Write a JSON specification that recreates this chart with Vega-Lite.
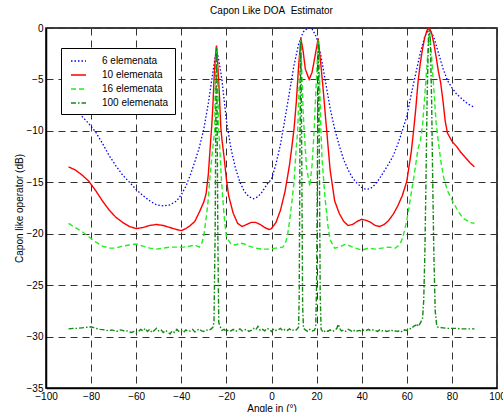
{
  "$schema": "https://vega.github.io/schema/vega-lite/v6.json",
  "width": 451,
  "height": 360,
  "autosize": {"type": "none"},
  "padding": {"left": 46, "top": 28, "right": 6, "bottom": 24},
  "background": "white",
  "title": {"text": "Capon Like DOA\u00a0 Estimator", "fontSize": 10, "fontWeight": "normal", "font": "Liberation Sans", "color": "black", "offset": 7, "anchor": "middle"},
  "datasets": {
    "b": [[-90,-7.0],[-87,-7.8],[-84,-8.6],[-81,-9.3],[-78,-10.1],[-75,-11.2],[-72,-12.4],[-69,-13.4],[-66,-14.3],[-63,-15.0],[-60,-15.7],[-57,-16.3],[-54,-16.8],[-51,-17.2],[-48,-17.3],[-45,-17.2],[-42,-16.8],[-40,-16.2],[-38,-15.4],[-36,-14.3],[-34,-13.0],[-32,-11.6],[-30,-9.8],[-28,-7.3],[-26,-4.3],[-24.4,-2.0],[-23,-3.6],[-22,-5.0],[-20,-9.0],[-18,-11.7],[-16,-13.6],[-14,-15.0],[-12,-15.9],[-10,-16.4],[-8,-16.6],[-6,-16.4],[-4,-15.9],[-2,-15.2],[0,-14.7],[2,-13.2],[4,-11.3],[6,-8.8],[8,-6.2],[10,-3.6],[12,-1.6],[14,-0.4],[16,0.0],[17,0.0],[18,-0.1],[20,-0.9],[22,-2.8],[24,-5.3],[26,-7.8],[28,-9.8],[30,-11.4],[32,-12.8],[34,-13.8],[36,-14.6],[38,-15.1],[40,-15.5],[42,-15.7],[44,-15.6],[46,-15.2],[48,-14.6],[50,-13.9],[52,-13.2],[54,-12.4],[56,-11.3],[58,-10.0],[60,-8.6],[62,-6.4],[64,-4.4],[66,-2.4],[68,-0.8],[70,-0.1],[72,-0.9],[74,-2.4],[76,-3.9],[78,-5.1],[80,-5.8],[82,-6.4],[84,-6.8],[86,-7.2],[88,-7.5],[90,-7.7]],
    "r": [[-90,-13.5],[-87,-13.8],[-84,-14.3],[-81,-14.9],[-78,-15.8],[-75,-16.8],[-72,-17.7],[-69,-18.4],[-66,-18.9],[-63,-19.3],[-60,-19.5],[-57,-19.4],[-54,-19.2],[-51,-19.1],[-48,-19.2],[-45,-19.4],[-42,-19.6],[-40,-19.7],[-38,-19.5],[-36,-19.2],[-34,-18.8],[-32,-17.9],[-30,-16.9],[-29,-16.1],[-28,-14.2],[-27,-11.0],[-26.5,-9.5],[-26,-7.6],[-25.5,-5.0],[-25,-3.2],[-24.4,-1.7],[-24,-3.0],[-23.5,-4.8],[-23,-7.0],[-22.5,-9.6],[-22,-10.8],[-21,-12.6],[-20,-14.7],[-19,-16.3],[-17,-18.0],[-15,-19.0],[-13,-19.3],[-11,-19.1],[-9,-18.9],[-7,-18.9],[-5,-19.1],[-3,-19.4],[-1,-19.6],[0,-19.5],[2,-18.9],[4,-17.7],[6,-15.9],[8,-13.3],[9,-11.6],[10,-9.8],[11,-7.2],[12,-3.8],[13,-1.0],[14,-2.2],[15,-4.0],[16.7,-5.0],[18,-4.3],[19.5,-2.5],[20.7,-1.0],[22,-3.8],[23,-6.2],[24,-8.8],[24.5,-10.0],[25,-11.3],[26,-13.8],[28,-16.8],[30,-18.0],[32,-18.8],[34,-19.2],[36,-19.1],[38,-18.8],[40,-18.6],[42,-18.7],[44,-18.9],[46,-19.2],[48,-19.3],[50,-19.1],[52,-18.7],[54,-18.1],[56,-17.3],[58,-16.3],[60,-14.9],[62,-12.0],[63,-10.0],[64,-7.8],[65,-5.2],[66,-3.4],[67,-2.0],[68,-0.9],[69,-0.2],[70,0.0],[71,-0.5],[72,-1.5],[73,-2.8],[74,-4.2],[75,-5.3],[76,-7.0],[77,-9.0],[78,-10.2],[80,-11.0],[82,-11.5],[84,-12.1],[86,-12.6],[88,-13.1],[90,-13.5]],
    "g": [[-90,-19.0],[-87,-19.4],[-84,-19.8],[-81,-20.3],[-78,-20.8],[-75,-21.2],[-72,-21.4],[-69,-21.4],[-66,-21.2],[-63,-21.1],[-60,-21.0],[-57,-21.2],[-54,-21.4],[-51,-21.5],[-48,-21.4],[-45,-21.3],[-42,-21.3],[-39,-21.3],[-36,-21.2],[-34,-21.1],[-32,-21.3],[-31,-21.0],[-30,-20.2],[-29,-18.5],[-28,-16.6],[-27.4,-14.8],[-26.5,-12.6],[-25.8,-11.2],[-25.2,-10.0],[-24.9,-5.0],[-24.4,-1.8],[-23.9,-5.0],[-23.4,-10.0],[-23,-11.4],[-22.2,-14.8],[-21,-18.3],[-20,-20.3],[-18,-21.0],[-16,-21.1],[-14,-20.9],[-12,-21.0],[-10,-21.2],[-7,-21.4],[-4,-21.5],[-1,-21.5],[2,-21.4],[5,-21.3],[6,-21.0],[7,-20.3],[8,-18.8],[9,-17.0],[10,-15.0],[10.5,-13.2],[11,-11.6],[11.6,-10.0],[12.3,-5.5],[12.9,-1.2],[13.5,-4.5],[14,-8.0],[14.5,-10.0],[15.5,-13.5],[17,-15.4],[18,-13.3],[18.9,-10.0],[19.5,-7.0],[20.7,-1.2],[21.3,-4.8],[21.9,-10.0],[22.5,-13.0],[23.7,-16.4],[25,-19.2],[26,-20.6],[28,-21.4],[30,-21.3],[33,-21.0],[36,-21.3],[40,-21.6],[43,-21.4],[46,-21.5],[49,-21.4],[52,-21.3],[55,-21.4],[57,-21.0],[58,-20.5],[59,-19.7],[60,-18.7],[61,-17.4],[62,-16.0],[63,-14.7],[64,-13.2],[65,-11.7],[66,-11.0],[67,-9.4],[68,-6.5],[69,-3.5],[70,-0.3],[71,-2.8],[72,-6.0],[73,-9.2],[73.5,-10.2],[75,-12.8],[76.3,-14.5],[78,-15.8],[80.7,-17.0],[83,-17.9],[85,-18.5],[88,-18.9],[90,-19.0]],
    "d": [[-90,-29.25],[-88,-29.2],[-86,-29.2],[-84,-29.15],[-82,-29.1],[-80,-29.05],[-78,-29.2],[-76,-29.3],[-74,-29.35],[-72,-29.45],[-71,-29.35],[-70,-29.4],[-69,-29.5],[-68,-29.45],[-67,-29.35],[-66,-29.4],[-65,-29.5],[-64,-29.45],[-63,-29.55],[-62,-29.6],[-61,-29.5],[-60,-29.65],[-59,-29.5],[-58,-29.3],[-57,-29.45],[-56,-29.2],[-55,-29.5],[-54,-29.3],[-53,-29.6],[-52,-29.4],[-51,-29.2],[-50,-29.45],[-49,-29.35],[-48,-29.6],[-47,-29.4],[-46,-29.55],[-45,-29.75],[-44,-29.45],[-43,-29.6],[-42,-29.3],[-41,-29.5],[-40,-29.4],[-39,-29.6],[-38,-29.35],[-37,-29.5],[-36,-29.45],[-35,-29.3],[-34,-29.55],[-33,-29.4],[-32,-29.25],[-31,-29.45],[-30,-29.5],[-29,-29.35],[-28,-29.4],[-27,-29.3],[-26,-29.1],[-25.5,-28.6],[-25,-20.0],[-24.6,-6.0],[-24.4,-1.9],[-24.2,-6.0],[-23.8,-20.0],[-23.4,-28.6],[-23,-28.9],[-22,-29.4],[-21,-29.3],[-20,-29.5],[-19,-29.35],[-18,-29.45],[-17,-29.3],[-16,-29.5],[-15,-29.4],[-14,-29.25],[-13,-29.45],[-12,-29.35],[-11,-29.3],[-10,-29.5],[-9,-29.4],[-8,-29.2],[-7,-29.35],[-6,-29.0],[-5,-29.4],[-4,-29.3],[-3,-29.45],[-2,-29.2],[-1,-29.3],[0,-29.5],[1,-29.25],[2,-29.4],[3,-29.35],[4,-29.2],[5,-29.45],[6,-29.3],[7,-29.4],[8,-29.25],[9,-29.45],[10,-29.3],[11,-29.35],[12,-29.1],[12.3,-26.0],[12.6,-12.0],[13,-1.3],[13.4,-12.0],[13.8,-27.0],[14.2,-29.2],[15,-29.35],[16,-29.5],[17,-29.3],[18,-29.45],[19,-29.4],[19.6,-29.1],[20,-25.0],[20.4,-12.0],[20.8,-1.3],[21.2,-12.0],[21.6,-26.0],[22,-29.3],[23,-29.6],[24,-29.4],[25,-29.5],[26,-29.35],[27,-29.5],[28,-29.4],[29,-29.2],[29.6,-28.8],[30.5,-29.3],[31,-29.45],[32,-29.35],[33,-29.5],[34,-29.3],[35,-29.4],[36,-29.55],[37,-29.35],[38,-29.45],[39,-29.4],[40,-29.5],[41,-29.35],[42,-29.4],[43,-29.3],[44,-29.45],[45,-29.35],[46,-29.4],[47,-29.5],[48,-29.35],[49,-29.45],[50,-29.4],[51,-29.5],[52,-29.45],[53,-29.35],[54,-29.5],[55,-29.45],[56,-29.5],[57,-29.4],[58,-29.55],[59,-29.35],[60,-29.4],[61,-29.2],[62,-29.25],[63,-29.0],[64,-28.9],[64.5,-28.75],[65,-29.0],[66,-28.7],[67,-28.2],[67.5,-26.5],[68,-22.0],[68.5,-15.0],[69,-7.0],[69.6,-1.0],[70,-0.1],[70.4,-1.0],[71,-7.0],[71.5,-15.0],[72,-22.0],[72.6,-27.5],[73.3,-29.0],[74,-29.1],[76,-29.15],[78,-29.2],[80,-29.2],[82,-29.2],[84,-29.25],[86,-29.25],[88,-29.25],[90,-29.25]]
  },
  "layer": [
    {"data": {"name": "b"}, "transform": [{"calculate": "'6 elemenata'", "as": "s"}, {"calculate": "datum[0]", "as": "x"}, {"calculate": "datum[1]", "as": "y"}], "mark": {"type": "line", "strokeWidth": 1.3}},
    {"data": {"name": "r"}, "transform": [{"calculate": "'10 elemenata'", "as": "s"}, {"calculate": "datum[0]", "as": "x"}, {"calculate": "datum[1]", "as": "y"}], "mark": {"type": "line", "strokeWidth": 1.4}},
    {"data": {"name": "g"}, "transform": [{"calculate": "'16 elemenata'", "as": "s"}, {"calculate": "datum[0]", "as": "x"}, {"calculate": "datum[1]", "as": "y"}], "mark": {"type": "line", "strokeWidth": 1.4}},
    {"data": {"name": "d"}, "transform": [{"calculate": "'100 elemenata'", "as": "s"}, {"calculate": "datum[0]", "as": "x"}, {"calculate": "datum[1]", "as": "y"}], "mark": {"type": "line", "strokeWidth": 1.4}}
  ],
  "encoding": {
    "x": {"field": "x", "type": "quantitative", "scale": {"domain": [-100, 100], "nice": false, "zero": false},
      "axis": {"values": [-100, -80, -60, -40, -20, 0, 20, 40, 60, 80, 100], "title": "Angle in (°)"}},
    "y": {"field": "y", "type": "quantitative", "scale": {"domain": [-35, 0], "nice": false, "zero": false},
      "axis": {"values": [-35, -30, -25, -20, -15, -10, -5, 0], "title": "Capon like operator (dB)"}},
    "color": {"field": "s", "type": "nominal",
      "scale": {"domain": ["6 elemenata", "10 elemenata", "16 elemenata", "100 elemenata"], "range": ["#0000ff", "#ff0000", "#22ee22", "#108a10"]},
      "legend": {"title": null}},
    "strokeDash": {"field": "s", "type": "nominal",
      "scale": {"domain": ["6 elemenata", "10 elemenata", "16 elemenata", "100 elemenata"], "range": [[1.5, 2], [1, 0], [5, 3], [5, 2, 1.5, 2]]},
      "legend": {"title": null}}
  },
  "config": {
    "font": "Liberation Sans",
    "view": {"stroke": "black", "strokeWidth": 1.5},
    "axis": {
      "grid": true, "gridColor": "#333333", "gridDash": [7, 5], "gridWidth": 1,
      "domainColor": "black", "domainWidth": 1.5, "ticks": false,
      "labelFontSize": 10, "labelColor": "black", "labelPadding": 3,
      "titleFontSize": 10, "titleFontWeight": "normal", "titleColor": "black"
    },
    "axisX": {"titlePadding": 2, "labelFlush": false},
    "axisY": {"titlePadding": 2, "labelFlush": false},
    "legend": {
      "orient": "none", "legendX": 15, "legendY": 20,
      "strokeColor": "black", "fillColor": "white", "padding": 6,
      "symbolType": "M-0.5,0L2,0", "symbolSize": 144, "symbolStrokeWidth": 1.5,
      "labelFontSize": 10, "labelColor": "black", "labelOffset": 21, "rowPadding": 2
    }
  }
}
